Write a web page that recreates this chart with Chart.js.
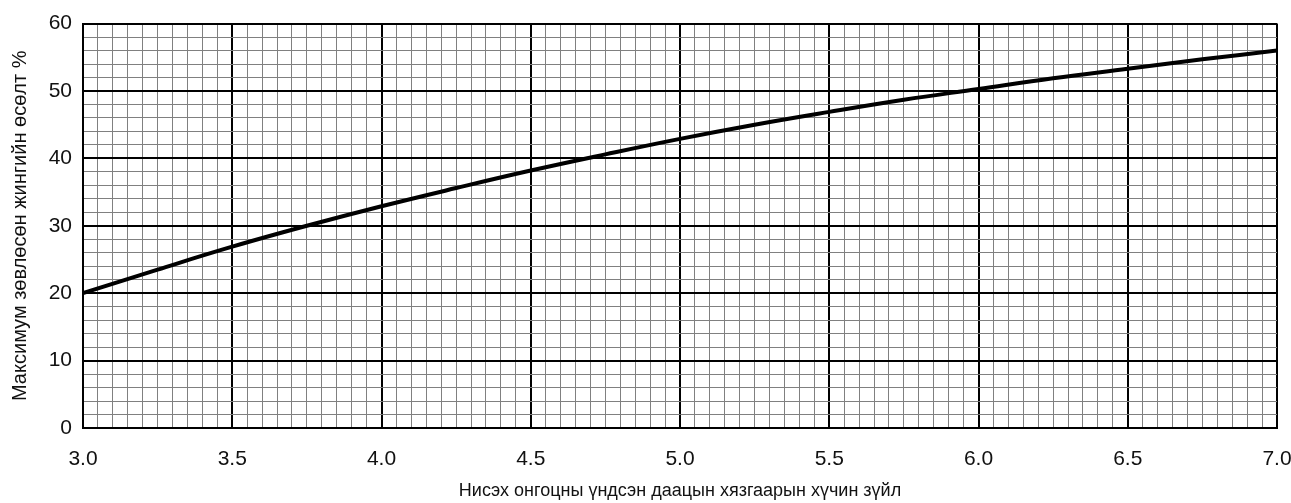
<!DOCTYPE html>
<html>
<head>
<meta charset="utf-8">
<script src="https://cdn.jsdelivr.net/npm/chart.js@4"></script>
<style>
    html, body { margin: 0; padding: 0; background: #fff; overflow: hidden; }
</style>
</head>
<body>
<canvas id="load_chart" width="1291" height="503"></canvas>
<script>
// values
const loadFactors = [3.0, 3.25, 3.5, 3.75, 4.0, 4.25, 4.5, 4.75, 5.0, 5.25, 5.5, 5.75, 6.0, 6.25, 6.5, 6.75, 7.0];
const weightGrowth = [20.0, 23.5, 26.9, 30.0, 32.9, 35.6, 38.2, 40.6, 42.9, 45.0, 46.9, 48.7, 50.3, 51.9, 53.3, 54.7, 56.0];
const xTickLabels = ['3.0', '3.5', '4.0', '4.5', '5.0', '5.5', '6.0', '6.5', '7.0'];
const yTickLabels = ['0', '10', '20', '30', '40', '50', '60'];

const xTitle = 'Нисэх онгоцны үндсэн даацын хязгаарын хүчин зүйл';
const yTitle = 'Максимум зөвлөсөн жингийн өсөлт %';

// major line every 0.5 on x, every 10 on y
const isMajor = (value, step) => Math.abs(value / step - Math.round(value / step)) < 1e-6;

const gridStyle = (step) => ({
    color: (ctx) => isMajor(ctx.tick.value, step) ? '#000000' : '#808080',
    lineWidth: (ctx) => isMajor(ctx.tick.value, step) ? 2 : 1,
    drawTicks: false
});

const tickFont = { family: 'Liberation Sans, Arial, sans-serif', size: 21 };

new Chart(document.getElementById('load_chart'), {
    type: 'line',
    data: {
        datasets: [{
            data: loadFactors.map((x, i) => ({ x: x, y: weightGrowth[i] })),
            borderColor: '#000000',
            borderWidth: 4,
            pointRadius: 0,
            tension: 0.4,
            fill: false
        }]
    },
    options: {
        responsive: false,
        animation: false,
        devicePixelRatio: 1,
        layout: {
            padding: { top: 23, right: 0 }
        },
        plugins: {
            legend: { display: false },
            tooltip: { enabled: false }
        },
        scales: {
            x: {
                type: 'linear',
                min: 3,
                max: 7,
                grid: gridStyle(0.5),
                border: { color: '#000000', width: 2 },
                ticks: {
                    stepSize: 0.05,
                    autoSkip: false,
                    maxRotation: 0,
                    padding: 19,
                    color: '#111111',
                    font: tickFont,
                    callback: (value) => {
                        if (!isMajor(value, 0.5)) return '';
                        return xTickLabels[Math.round((value - 3) / 0.5)];
                    }
                },
                title: {
                    display: true,
                    text: xTitle,
                    color: '#111111',
                    font: { family: 'Liberation Sans, Arial, sans-serif', size: 18 },
                    padding: { top: 1, bottom: 1 }
                },
                afterFit: (scale) => {
                    scale.height = 75;
                    // keep the plot edge 14px from the right side
                    scale.paddingLeft = 0;
                    scale.paddingRight = 14;
                }
            },
            y: {
                min: 0,
                max: 60,
                grid: gridStyle(10),
                border: { color: '#000000', width: 2 },
                ticks: {
                    stepSize: 2,
                    autoSkip: false,
                    padding: 11,
                    color: '#111111',
                    font: tickFont,
                    callback: (value) => {
                        if (!isMajor(value, 10)) return '';
                        return yTickLabels[Math.round(value / 10)];
                    }
                },
                title: {
                    display: true,
                    text: yTitle,
                    color: '#111111',
                    font: { family: 'Liberation Sans, Arial, sans-serif', size: 20 },
                    padding: { top: 8, bottom: 8 }
                },
                afterFit: (scale) => { scale.width = 83; }
            }
        }
    }
});
</script>
</body>
</html>
